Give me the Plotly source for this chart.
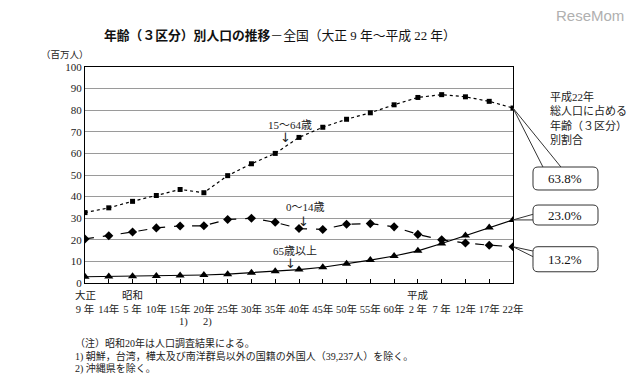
import plotly.graph_objects as go

# ---- data ----
year_labels = ["9 年", "14年", "5 年", "10年", "15年", "20年", "25年", "30年", "35年", "40年",
               "45年", "50年", "55年", "60年", "2 年", "7 年", "12年", "17年", "22年"]
era_labels = {0: "大正", 2: "昭和", 14: "平成"}
footnote_marks = {4: "1)", 5: "2)"}

age_0_14 = [20.4, 21.9, 23.6, 25.5, 26.4, 26.5, 29.4, 30.0, 28.1, 25.2,
            24.8, 27.2, 27.5, 26.0, 22.5, 20.0, 18.5, 17.5, 16.8]
age_15_64 = [32.6, 34.8, 37.8, 40.5, 43.3, 41.8, 49.7, 55.2, 60.0, 67.4,
             72.1, 75.8, 78.8, 82.5, 85.9, 87.2, 86.2, 84.1, 81.0]
age_65 = [2.9, 3.0, 3.1, 3.2, 3.5, 3.7, 4.1, 4.8, 5.4, 6.2,
          7.3, 8.9, 10.6, 12.5, 14.9, 18.3, 22.0, 25.7, 29.2]
shares = {"15-64": "63.8%", "65+": "23.0%", "0-14": "13.2%"}
y_ticks = list(range(0, 101, 10))

FONT = "Liberation Serif, Noto Sans CJK JP"
xs = list(range(len(year_labels)))
N = len(year_labels) - 1

fig = go.Figure()
fig.add_trace(go.Scatter(x=xs, y=age_15_64, mode="lines+markers", name="15～64歳",
                         line=dict(color="black", width=1.2, dash="dot"),
                         marker=dict(symbol="square", size=5, color="black")))
fig.add_trace(go.Scatter(x=xs, y=age_0_14, mode="lines+markers", name="0～14歳",
                         line=dict(color="black", width=1.2, dash="dash"),
                         marker=dict(symbol="diamond", size=7, color="black")))
fig.add_trace(go.Scatter(x=xs, y=age_65, mode="lines+markers", name="65歳以上",
                         line=dict(color="black", width=1.2),
                         marker=dict(symbol="triangle-up", size=8, color="black")))

fig.update_layout(
    width=640, height=378,
    margin=dict(l=85, r=127, t=67, b=95),
    paper_bgcolor="white", plot_bgcolor="white",
    showlegend=False,
    font=dict(family=FONT, color="#222", size=11),
)
fig.update_xaxes(range=[0, N], tickmode="array", tickvals=xs, ticktext=year_labels,
                 ticks="inside", ticklen=4, tickcolor="black",
                 showgrid=False, zeroline=False, showline=True, linecolor="black", linewidth=1,
                 mirror=True, tickfont=dict(size=10.5, family=FONT), ticklabelstandoff=16)
fig.update_yaxes(range=[0, 100], tickmode="array", tickvals=y_ticks,
                 showgrid=True, gridcolor="#9a9a9a", gridwidth=1, zeroline=False,
                 showline=True, linecolor="black", linewidth=1, mirror=True,
                 tickfont=dict(size=11, family=FONT))

ann = []
# era labels and footnote markers under x axis
for i, t in era_labels.items():
    ann.append(dict(x=i, y=-0.056, xref="x", yref="paper", text=t, showarrow=False,
                    font=dict(size=10.5), xanchor="center", yanchor="middle"))
for i, t in footnote_marks.items():
    ann.append(dict(x=i + 0.15, y=-0.181, xref="x", yref="paper", text=t, showarrow=False,
                    font=dict(size=10.5), xanchor="center", yanchor="middle"))

# series labels with small arrows
ann += [
    dict(x=8.62, y=73.3, text="15～64歳", showarrow=False, font=dict(size=11)),
    dict(x=8.45, y=67.3, text="↓", showarrow=False, font=dict(size=13, family="DejaVu Sans")),
    dict(x=9.29, y=35.4, text="0～14歳", showarrow=False, font=dict(size=11)),
    dict(x=9.2, y=28.6, text="↓", showarrow=False, font=dict(size=13, family="DejaVu Sans")),
    dict(x=8.83, y=14.6, text="65歳以上", showarrow=False, font=dict(size=11)),
    dict(x=8.66, y=9.0, text="↓", showarrow=False, font=dict(size=13, family="DejaVu Sans")),
]

# title, unit, watermark
ann += [
    dict(x=0.455, y=1.148, xref="paper", yref="paper",
         text="<b>年齢（３区分）別人口の推移</b>－全国（大正 9 年～平成 22 年）",
         showarrow=False, font=dict(size=12.8, color="#111"), xanchor="center", yanchor="middle"),
    dict(x=-0.046, y=1.06, xref="paper", yref="paper", text="（百万人）", showarrow=False,
         font=dict(size=9.5), xanchor="center", yanchor="middle"),
    dict(x=1.18, y=1.24, xref="paper", yref="paper", text="ReseMom", showarrow=False,
         font=dict(size=15, family="Liberation Sans", color="#b0b0b0"), xanchor="center", yanchor="middle"),
]

# right side text
ann.append(dict(x=1.082, y=0.905, xref="paper", yref="paper",
                text="平成22年<br>総人口に占める<br>年齢（３区分）<br>別割合",
                showarrow=False, align="left", xanchor="left", yanchor="top",
                font=dict(size=11)))

# notes
notes = ["（注）昭和20年は人口調査結果による。",
         "1) 朝鮮，台湾，樺太及び南洋群島以外の国籍の外国人（39,237人）を除く。",
         "2) 沖縄県を除く。"]
for t, yy in zip(notes, [-0.278, -0.338, -0.394]):
    ann.append(dict(x=-0.028, y=yy, xref="paper", yref="paper", text=t, showarrow=False,
                    xanchor="left", yanchor="middle", font=dict(size=10)))

# callout boxes
PW, PH = 428.0, 216.0
def rrect(x0, y0, x1, y1, r=5):
    rx, ry = r / PW, r / PH
    return (f"M {x0+rx},{y1} L {x1-rx},{y1} Q {x1},{y1} {x1},{y1-ry} "
            f"L {x1},{y0+ry} Q {x1},{y0} {x1-rx},{y0} L {x0+rx},{y0} "
            f"Q {x0},{y0} {x0},{y0+ry} L {x0},{y1-ry} Q {x0},{y1} {x0+rx},{y1} Z")

bx0, bx1 = 1.0467, 1.1986
boxes = [
    (age_15_64[-1], shares["15-64"], 0.4306, 0.537, [(1.070, 0.537), (1.112, 0.537)]),
    (age_65[-1], shares["65+"], 0.2685, 0.361, [(bx0, 0.318), (bx0, 0.292)]),
    (age_0_14[-1], shares["0-14"], 0.052, 0.168, [(bx0, 0.148), (bx0, 0.122)]),
]
shapes = []
for val, txt, y0, y1, pts in boxes:
    ex, ey = 1.0, val / 100.0
    (ax1, ay1), (ax2, ay2) = pts
    shapes.append(dict(type="path", xref="paper", yref="paper",
                       path=f"M {ax1},{ay1} L {ex},{ey} L {ax2},{ay2}",
                       line=dict(color="#333", width=1)))
    shapes.append(dict(type="path", xref="paper", yref="paper", path=rrect(bx0, y0, bx1, y1),
                       fillcolor="white", line=dict(color="#333", width=1)))
    ann.append(dict(x=(bx0 + bx1) / 2, y=(y0 + y1) / 2, xref="paper", yref="paper", text=txt,
                    showarrow=False, font=dict(size=13, family=FONT, color="#111"),
                    xanchor="center", yanchor="middle"))

fig.update_layout(annotations=ann, shapes=shapes)
fig.write_html("out.html", config={"displayModeBar": False},
               post_script="document.body.style.margin='0';document.body.style.overflow='hidden';")
